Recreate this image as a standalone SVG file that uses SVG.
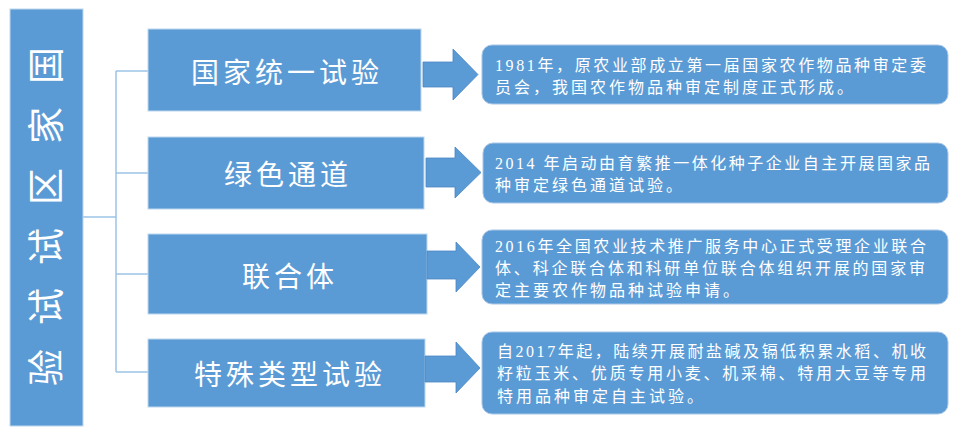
<svg xmlns="http://www.w3.org/2000/svg" width="960" height="438" viewBox="0 0 960 438">
<style>
.box{fill:#5B9BD5;stroke:#BDD7EE;stroke-width:1}
.call{fill:#5B9BD5;stroke:#A9C6E6;stroke-width:1}
.arr{fill:#5B9BD5;stroke:#4A86C4;stroke-width:0.8}
.conn{fill:none;stroke:#9DC3E6;stroke-width:1.5}
.lbl{font-family:"Noto Sans CJK SC","Noto Sans",sans-serif;font-size:28px;fill:#fff;letter-spacing:4px;text-anchor:middle;dominant-baseline:central}
.title{font-family:"Noto Sans CJK SC","Noto Sans",sans-serif;font-size:37px;fill:#fff}
.desc{font-family:"Liberation Serif","Noto Sans CJK SC",serif;font-size:16px;fill:#fff;letter-spacing:3px}
</style>
<rect width="960" height="438" fill="#fff"/>
<g id="connectors">
<path class="conn" d="M83 217H116M116 71V372M116 71H148M116 173H148M116 274H148M116 372H148"/>
</g>
<g id="root">
<rect class="box" x="10" y="9" width="73" height="417"/>
<text class="title" rotate="-90" x="60 60 60 60 60 60" y="84 144 205 265 325 386">国家区试试验</text>
</g>
<g id="n1">
<rect class="box" x="148" y="29" width="273" height="82"/>
<text class="lbl" x="287" y="71">国家统一试验</text>
</g>
<g id="n2">
<rect class="box" x="148" y="137" width="276" height="72"/>
<text class="lbl" x="288" y="173">绿色通道</text>
</g>
<g id="n3">
<rect class="box" x="148" y="234" width="279" height="80"/>
<text class="lbl" x="290" y="275">联合体</text>
</g>
<g id="n4">
<rect class="box" x="148" y="339" width="277" height="68"/>
<text class="lbl" x="290" y="373">特殊类型试验</text>
</g>
<g id="arrows">
<polygon class="arr" points="423,62 453,62 453,49 478,74.5 453,100 453,87 423,87"/>
<polygon class="arr" points="426,158 455,158 455,147 481,172.5 455,198 455,187 426,187"/>
<polygon class="arr" points="427,251 456,251 456,242 480,267 456,292 456,279 427,279"/>
<polygon class="arr" points="425,356 456,356 456,342 480,368 456,393 456,382 425,382"/>
</g>
<g id="c1">
<rect class="call" x="482" y="45" width="466" height="59" rx="10"/>
<text class="desc" x="495" y="71" textLength="434" lengthAdjust="spacing">1981年，原农业部成立第一届国家农作物品种审定委</text>
<text class="desc" x="495" y="93">员会，我国农作物品种审定制度正式形成。</text>
</g>
<g id="c2">
<rect class="call" x="483" y="143" width="465" height="60" rx="10"/>
<text class="desc" x="495" y="169" textLength="438" lengthAdjust="spacing">2014 年启动由育繁推一体化种子企业自主开展国家品</text>
<text class="desc" x="495" y="191">种审定绿色通道试验。</text>
</g>
<g id="c3">
<rect class="call" x="482" y="230" width="466" height="74" rx="10"/>
<text class="desc" x="495" y="252" textLength="434" lengthAdjust="spacing">2016年全国农业技术推广服务中心正式受理企业联合</text>
<text class="desc" x="495" y="274" textLength="433" lengthAdjust="spacing">体、科企联合体和科研单位联合体组织开展的国家审</text>
<text class="desc" x="495" y="296">定主要农作物品种试验申请。</text>
</g>
<g id="c4">
<rect class="call" x="482" y="332" width="466" height="82" rx="10"/>
<text class="desc" x="497" y="357" textLength="432" lengthAdjust="spacing">自2017年起，陆续开展耐盐碱及镉低积累水稻、机收</text>
<text class="desc" x="497" y="379" textLength="432" lengthAdjust="spacing">籽粒玉米、优质专用小麦、机采棉、特用大豆等专用</text>
<text class="desc" x="497" y="402">特用品种审定自主试验。</text>
</g>
</svg>
